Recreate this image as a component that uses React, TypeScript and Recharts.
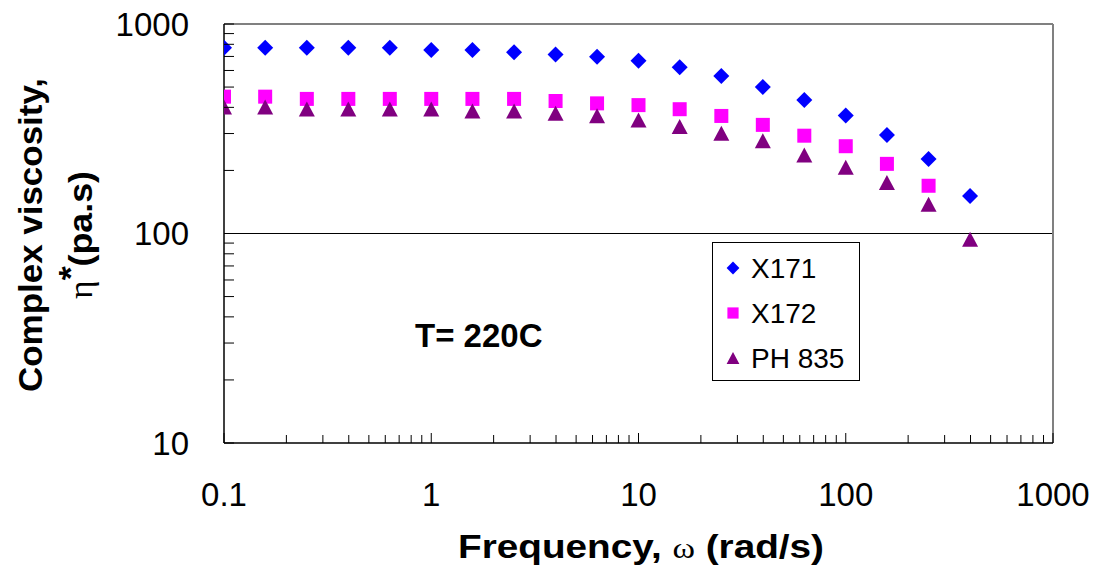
import React from "react";
import {
    ScatterChart,
    Scatter,
    XAxis,
    YAxis,
    ReferenceLine,
    Legend,
} from "recharts";

// angular frequency, rad/s
const FREQ = [0.1, 0.158, 0.251, 0.398, 0.631, 1, 1.58, 2.51, 3.98, 6.31, 10, 15.8, 25.1, 39.8, 63.1, 100, 158, 251, 398];

// complex viscosity, Pa.s
const X171 = [771, 771, 771, 771, 771, 752, 752, 733, 716, 698, 668, 621, 565, 500, 434, 366, 295, 227, 151];
const X172 = [450, 450, 439, 439, 439, 439, 439, 439, 429, 418, 410, 392, 364, 330, 293, 261, 215, 169];
const PH835 = [402, 402, 393, 393, 393, 393, 384, 384, 375, 365, 348, 324, 301, 277, 237, 207, 175, 138, 94];

const X_MAJOR = [0.1, 1, 10, 100, 1000];
const X_MINOR = [0.2, 0.3, 0.4, 0.5, 0.6, 0.7, 0.8, 0.9, 2, 3, 4, 5, 6, 7, 8, 9, 20, 30, 40, 50, 60, 70, 80, 90, 200, 300, 400, 500, 600, 700, 800, 900];
const Y_MAJOR = [10, 100, 1000];
const Y_MINOR = [20, 30, 40, 50, 60, 70, 80, 90, 200, 300, 400, 500, 600, 700, 800, 900];

const FONT = '"Liberation Sans", Arial, sans-serif';
const X_GAP = 40;
const Y_GAP = 35;

const toPoints = (vals: number[]) => vals.map((v, i) => ({ x: FREQ[i], y: v }));

const SERIES = [
    { name: "X171", data: toPoints(X171), color: "#0000ff", marker: "diamond" },
    { name: "X172", data: toPoints(X172), color: "#ff00ff", marker: "square" },
    { name: "PH 835", data: toPoints(PH835), color: "#800080", marker: "triangle" },
];

function Marker({ cx, cy, type, color, s = 1 }: { cx: number; cy: number; type: string; color: string; s?: number }) {
    if (type === "diamond") {
        const r = 8 * s;
        return <polygon points={`${cx},${cy - r} ${cx + r},${cy} ${cx},${cy + r} ${cx - r},${cy}`} fill={color} />;
    }
    if (type === "square") {
        const r = 7 * s;
        return <rect x={cx - r} y={cy - r} width={2 * r} height={2 * r} fill={color} />;
    }
    const w = 8 * s, h = 7.5 * s;
    return <polygon points={`${cx},${cy - h} ${cx + w},${cy + h} ${cx - w},${cy + h}`} fill={color} />;
}

function XTick(props: any) {
    const { x, y, payload } = props;
    const v = payload.value;
    const major = X_MAJOR.includes(v);
    const base = y - X_GAP;
    return (
        <g>
            <line x1={x} x2={x} y1={base} y2={base - (major ? 10 : 8)} stroke="#000" strokeWidth={1} />
            {major && (
                <text x={x} y={y} dy="0.71em" textAnchor="middle" fontSize={33} fontFamily={FONT} fill="#000">
                    {String(v)}
                </text>
            )}
        </g>
    );
}

function YTick(props: any) {
    const { x, y, payload } = props;
    const v = payload.value;
    const major = Y_MAJOR.includes(v);
    const base = x + Y_GAP;
    return (
        <g>
            <line x1={base} x2={base + 10} y1={y} y2={y} stroke="#000" strokeWidth={1} />
            {major && (
                <text x={x} y={y} dy="0.355em" textAnchor="end" fontSize={33} fontFamily={FONT} fill="#000">
                    {String(v)}
                </text>
            )}
        </g>
    );
}

function XTitle() {
    return (
        <text
            x={641}
            y={558}
            textAnchor="middle"
            fontSize={34}
            fontWeight="bold"
            fontFamily={FONT}
            fill="#000"
            textLength={366}
            lengthAdjust="spacingAndGlyphs"
        >
            Frequency,{" "}
            <tspan fontFamily='"Liberation Serif", serif' fontWeight="normal" fontSize={30}>ω</tspan>{" "}
            (rad/s)
        </text>
    );
}

function YTitle() {
    const cy = 235;
    return (
        <g fontSize={34} fontWeight="bold" fontFamily={FONT} fill="#000">
            <text
                x={42}
                y={cy}
                textAnchor="middle"
                transform={`rotate(-90, 42, ${cy})`}
                textLength={314}
                lengthAdjust="spacingAndGlyphs"
            >
                Complex viscosity,
            </text>
            <text
                x={92}
                y={cy}
                textAnchor="middle"
                transform={`rotate(-90, 92, ${cy})`}
                textLength={128}
                lengthAdjust="spacingAndGlyphs"
            >
                <tspan fontFamily='"Liberation Serif", serif' fontWeight="normal">η</tspan>
                <tspan dy={-10}>*</tspan>
                <tspan dy={10}>(pa.s)</tspan>
            </text>
        </g>
    );
}

function LegendBox() {
    return (
        <svg width={148} height={139} style={{ display: "block" }}>
            <rect x={0.5} y={0.5} width={147} height={138} fill="#fff" stroke="#000" />
            {SERIES.map((s, i) => (
                <g key={s.name}>
                    <Marker cx={21} cy={26 + i * 45} type={s.marker} color={s.color} s={0.8} />
                    <text x={39} y={26 + i * 45} dy="0.355em" fontSize={28} fontFamily={FONT} fill="#000">
                        {s.name}
                    </text>
                </g>
            ))}
        </svg>
    );
}

export default function App() {
    return (
        <div style={{ position: "absolute", left: 0, top: 0, width: 1101, height: 567, background: "#fff" }}>
            <ScatterChart width={1101} height={567} margin={{ top: 24, right: 48, left: 0, bottom: 0 }}>
                <XAxis
                    dataKey="x"
                    type="number"
                    scale="log"
                    domain={[0.1, 1000]}
                    allowDataOverflow
                    ticks={[...X_MAJOR, ...X_MINOR]}
                    interval={0}
                    tick={<XTick />}
                    tickLine={false}
                    tickSize={0}
                    tickMargin={X_GAP}
                    axisLine={{ stroke: "#000", strokeWidth: 1.5 }}
                    height={124}
                    label={{ content: () => <XTitle /> }}
                />
                <YAxis
                    dataKey="y"
                    type="number"
                    scale="log"
                    domain={[10, 1000]}
                    allowDataOverflow
                    ticks={[...Y_MAJOR, ...Y_MINOR]}
                    interval={0}
                    tick={<YTick />}
                    tickLine={false}
                    tickSize={0}
                    tickMargin={Y_GAP}
                    axisLine={{ stroke: "#000", strokeWidth: 1.5 }}
                    width={224}
                    label={{ content: () => <YTitle /> }}
                />
                <ReferenceLine y={100} stroke="#000" strokeWidth={1} />
                <ReferenceLine y={1000} stroke="#808080" strokeWidth={2} />
                <ReferenceLine x={1000} stroke="#808080" strokeWidth={2} />
                <Legend
                    layout="vertical"
                    align="center"
                    verticalAlign="middle"
                    content={() => <LegendBox />}
                    wrapperStyle={{ left: 712, top: 242, width: 148, height: 139 }}
                />
                {SERIES.map((s) => (
                    <Scatter
                        key={s.name}
                        name={s.name}
                        data={s.data}
                        fill={s.color}
                        isAnimationActive={false}
                        shape={(p: any) => <Marker cx={p.cx} cy={p.cy} type={s.marker} color={s.color} />}
                    />
                ))}
            </ScatterChart>
            <div
                style={{
                    position: "absolute",
                    left: 415,
                    top: 319,
                    fontFamily: FONT,
                    fontWeight: "bold",
                    fontSize: 33,
                    lineHeight: "33px",
                    whiteSpace: "nowrap",
                }}
            >
                T= 220C
            </div>
        </div>
    );
}
